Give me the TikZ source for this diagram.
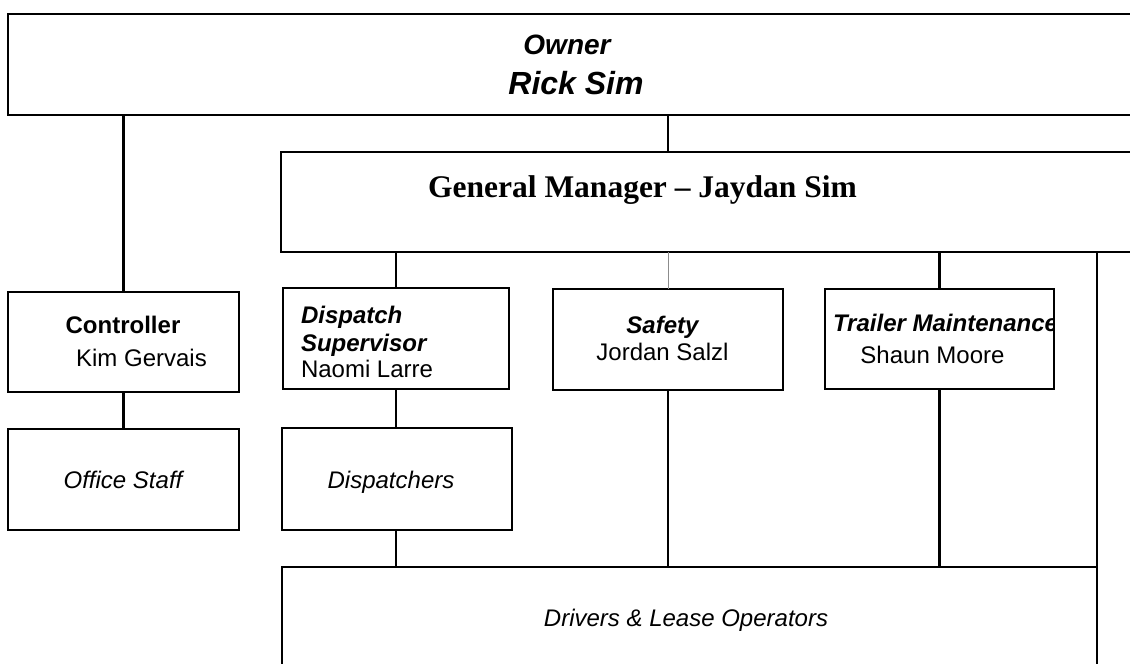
\documentclass[tikz,border=0pt]{standalone}
\usepackage{fontspec}
\setmainfont{Liberation Sans}
\newfontfamily\tnr{Liberation Serif}
\begin{document}
\begin{tikzpicture}[x=1pt,y=-1pt,
  box/.style={draw, line width=2.5pt, rectangle, inner sep=0pt, outer sep=0pt, anchor=north west},
  thinbox/.style={draw, line width=1.3pt, rectangle, inner sep=0pt, outer sep=0pt, anchor=north west},
  conn/.style={line width=2.2pt},
  faint/.style={line width=0.7pt, black!45},
  txt/.style={inner sep=0pt, outer sep=0pt, font=\fontsize{24}{27}\selectfont},
  bi/.style={txt, font=\fontsize{24}{27}\selectfont\bfseries\itshape},
  bo/.style={txt, font=\fontsize{24}{27}\selectfont\bfseries},
  it/.style={txt, font=\fontsize{24}{27}\selectfont\itshape}]
\useasboundingbox (0,0) rectangle (1130,664);
\clip (0,0) rectangle (1130,664);
\fill[white] (0,0) rectangle (1130,664);

% boxes
\node[box, minimum width=1140, minimum height=101] (own) at (8,14) {};
\node[box, minimum width=870, minimum height=100] (gm) at (281,152) {};
\node[box, minimum width=231, minimum height=100] (ctrl) at (8,292) {};
\node[box, minimum width=231, minimum height=101] (off) at (8,429) {};
\node[thinbox, minimum width=226, minimum height=101] (dsp) at (283,288) {};
\node[box, minimum width=230, minimum height=102] (dis) at (282,428) {};
\node[box, minimum width=230, minimum height=101] (saf) at (553,289) {};
\node[box, minimum width=229, minimum height=100] (trl) at (825,289) {};
\node[box, minimum width=815, minimum height=140] (drv) at (282,567) {};

% texts
\node[txt, anchor=base, font=\fontsize{28}{32}\selectfont\bfseries\itshape] (ownA) at (567,54) {Owner};
\node[txt, anchor=base, font=\fontsize{32}{36}\selectfont\bfseries\itshape] (ownB) at (576,94) {Rick Sim};
\node[txt, anchor=base, font=\fontsize{31.5}{36}\selectfont\tnr\bfseries] (gmT) at (642.5,197) {General Manager – Jaydan Sim};
\node[bo, anchor=base] (ctrlA) at (123,333) {Controller};
\node[txt, anchor=base] (ctrlB) at (141.5,366) {Kim Gervais};
\node[it, anchor=base] (offT) at (123,488.6) {Office Staff};
\node[bi, anchor=base west] (dspA) at (301,323.5) {Dispatch};
\node[bi, anchor=base west] (dspB) at (301,351.5) {Supervisor};
\node[txt, anchor=base west] (dspC) at (301,377.5) {Naomi Larre};
\node[it, anchor=base] (disT) at (391,488.6) {Dispatchers};
\node[bi, anchor=base] (safA) at (662.5,333.6) {Safety};
\node[txt, anchor=base] (safB) at (662.5,360.6) {Jordan Salzl};
\begin{scope}
  \clip (trl.north west) rectangle (trl.south east);
  \node[bi, anchor=base west] (trlA) at (833,331.6) {Trailer Maintenance};
\end{scope}
\node[txt, anchor=base] (trlB) at (932.5,363.6) {Shaun Moore};
\node[it, anchor=base] (drvT) at (686,626.6) {Drivers \& Lease Operators};

% connectors
\draw[conn] (own.south -| ctrl.north) -- (ctrl.north);
\draw[conn] (own.south -| saf.north) -- (gm.north -| saf.north);
\draw[conn] (ctrl.south) -- (off.north);
\draw[conn] (gm.south -| dsp.north) -- (dsp.north);
\draw[faint] (gm.south -| saf.north) -- (saf.north);
\draw[conn] (gm.south -| trl.north) -- (trl.north);
\draw[conn] (gm.south -| drv.north east) -- (drv.north east);
\draw[conn] (dsp.south) -- (dis.north -| dsp.south);
\draw[conn] (dis.south -| dsp.south) -- (drv.north -| dsp.south);
\draw[conn] (saf.south) -- (drv.north -| saf.south);
\draw[conn] (trl.south) -- (drv.north -| trl.south);
\end{tikzpicture}
\end{document}
